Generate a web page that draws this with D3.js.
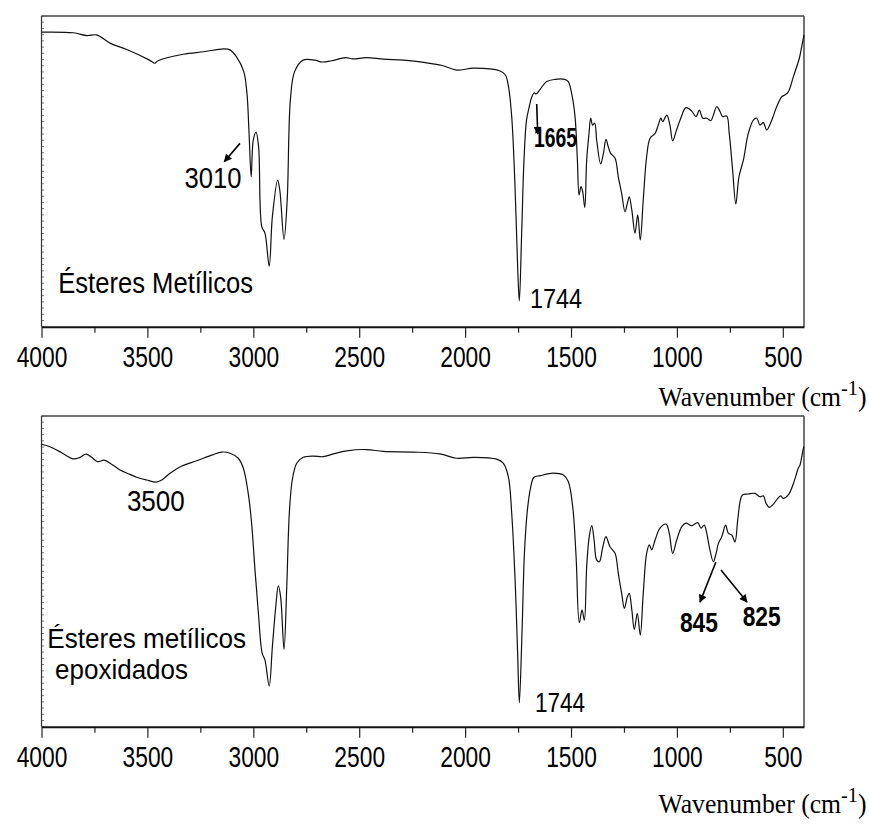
<!DOCTYPE html>
<html>
<head>
<meta charset="utf-8">
<script src="https://cdn.jsdelivr.net/npm/d3@7"></script>
<style>
  body { margin: 0; background: #fff; }
  svg { display: block; }
</style>
</head>
<body>
<svg id="chart" width="869" height="831"></svg>
<script>
// FTIR spectra: methyl esters (top) and epoxidized methyl esters (bottom)
const topWavenumber = [4000,3850,3785,3740,3675,3600,3490,3465,3450,3330,3235,3140,3110,3080,3045,3030,3020,3010,3000,2987,2975,2960,2945,2925,2910,2885,2875,2855,2840,2825,2805,2765,2710,2675,2630,2565,2530,2465,2385,2290,2195,2105,2040,1960,1835,1810,1795,1780,1765,1752,1744,1733,1722,1710,1697,1685,1673,1665,1646,1615,1575,1530,1513,1497,1481,1470,1462,1453,1445,1435,1426,1415,1407,1398,1388,1379,1360,1347,1335,1324,1313,1292,1277,1261,1245,1234,1225,1213,1198,1185,1173,1159,1143,1127,1103,1088,1076,1067,1048,1033,1020,1004,985,957,930,910,894,878,859,840,828,812,796,784,765,753,737,722,707,686,663,639,623,608,592,576,552,529,505,490,474,450,422,411,400];
const topTransmittance = [94.8,94.6,93.7,93.9,91.2,89.3,85.8,84.8,85.6,87.7,88.5,89.4,89.1,86.9,82.1,75.1,62.2,48.3,60.1,62.6,57.9,32.2,30.1,19.5,35.4,47.2,44.0,28.1,40.8,73.0,82.1,85.8,85.8,85.2,85.6,86.6,86.2,86.6,86.1,85.8,85.1,84.0,82.6,83.2,82.3,81.0,77.2,67.6,46.2,19.3,8.3,30.1,53.7,66.5,70.8,74.0,75.3,74.9,76.4,78.9,79.6,79.6,78.9,75.1,67.6,53.7,42.4,45.1,43.5,38.4,53.7,62.2,67.1,64.9,65.5,60.1,52.4,55.8,60.3,57.9,55.8,54.2,48.3,42.9,37.0,39.7,41.8,37.6,30.1,36.0,27.9,40.8,54.7,60.6,62.2,64.9,67.1,66.0,68.1,64.9,59.8,62.8,66.5,70.5,69.4,67.6,69.7,67.1,67.1,66.3,68.1,70.8,69.2,67.6,67.8,62.2,50.4,39.5,48.3,53.7,62.2,66.5,67.1,64.9,65.7,63.3,66.5,70.8,74.0,74.6,75.6,80.5,86.4,90.1,93.9];

const bottomWavenumber = [4000,3960,3905,3850,3818,3790,3763,3735,3705,3669,3629,3582,3551,3503,3459,3432,3393,3338,3267,3196,3149,3110,3071,3047,3024,3008,2992,2976,2958,2945,2925,2910,2894,2882,2871,2855,2842,2830,2816,2795,2764,2717,2670,2622,2559,2465,2386,2245,2119,2040,1961,1851,1820,1796,1780,1764,1752,1744,1731,1720,1706,1690,1675,1646,1584,1536,1513,1492,1476,1461,1448,1437,1426,1414,1402,1391,1379,1366,1350,1335,1316,1292,1277,1261,1248,1234,1225,1213,1201,1187,1173,1159,1143,1130,1119,1103,1080,1051,1036,1020,1001,977,957,930,902,886,871,859,847,828,815,804,788,770,757,741,726,713,702,691,663,631,608,592,579,564,548,529,510,498,474,450,427,419,403,400];
const bottomTransmittance = [90.9,90.1,88.2,86.2,86.7,87.7,86.7,85.3,85.8,84.5,82.6,81.2,80.3,79.4,78.7,79.4,81.6,83.9,85.6,87.4,88.4,88.0,86.4,83.2,75.1,65.5,50.4,36.5,23.6,21.5,13.1,25.7,38.6,45.3,41.8,24.9,45.1,68.7,79.4,84.8,86.7,87.1,86.9,87.8,88.8,89.2,88.6,88.4,87.8,86.4,86.7,86.1,84.8,80.5,68.7,47.2,23.6,7.7,31.1,55.8,69.7,77.2,80.3,80.8,81.6,81.0,78.9,70.8,54.7,33.5,37.6,34.3,51.5,61.2,64.7,60.1,53.7,53.1,57.9,61.2,57.9,55.8,49.4,42.9,38.1,41.8,42.9,37.6,31.3,36.5,29.5,42.9,55.8,58.5,56.9,60.1,63.9,65.2,62.2,55.8,60.1,64.4,65.5,64.7,65.7,63.9,64.9,62.2,57.9,53.1,55.8,59.0,61.2,64.9,62.2,61.7,59.5,66.5,72.4,74.6,74.9,75.1,74.0,74.3,71.9,70.6,71.4,73.0,74.3,73.5,74.6,78.3,83.2,84.2,89.6,90.1];

const majorTicks = [4000, 3500, 3000, 2500, 2000, 1500, 1000, 500];
const minorTicks = [3750, 3250, 2750, 2250, 1750, 1250, 750];
const gridMinorY = d3.range(0, 101, 2);

const axisTitle = "Wavenumber (cm";
const axisTitleSup = "-1";

// Peak annotations, anchored in (wavenumber, transmittance) coordinates
const topNotes = [
  { text: "3010", wn: 3190, t: 44.5, width: 57, size: 30, weight: "normal" },
  { text: "1665", wn: 1573, t: 57.9, width: 43, size: 27, weight: "bold" },
  { text: "1744", wn: 1571, t: 5.9, width: 52, size: 28, weight: "normal" }
];
const topArrows = [
  { from: [3063, 59.0], to: [3137, 53.1] },
  { from: [1662, 71.7], to: [1657, 62.0] }
];
const bottomNotes = [
  { text: "3500", wn: 3460, t: 69.4, width: 58, size: 29, weight: "normal" },
  { text: "1744", wn: 1552, t: 4.8, width: 50, size: 28, weight: "normal" },
  { text: "845", wn: 896, t: 30.5, width: 38, size: 28, weight: "bold" },
  { text: "825", wn: 600, t: 32.4, width: 38, size: 28, weight: "bold" }
];
const bottomArrows = [
  { from: [816, 53.0], to: [891, 40.1] },
  { from: [792, 50.4], to: [669, 40.1] }
];

const svg = d3.select("#chart");
const SANS = "'Liberation Sans', Arial, Helvetica, sans-serif";
const SERIF = "'Liberation Serif', 'Times New Roman', serif";

// arrowhead marker
svg.append("defs").append("marker")
  .attr("id", "head")
  .attr("viewBox", "0 0 10 10")
  .attr("refX", 9).attr("refY", 5)
  .attr("markerWidth", 12).attr("markerHeight", 8)
  .attr("markerUnits", "userSpaceOnUse")
  .attr("orient", "auto")
  .append("path").attr("d", "M0,0 L10,5 L0,10 Z").attr("fill", "#000");

const left = 41.5, right = 804;
const x = d3.scaleLinear().domain([4000, 400]).range([left, right]);

// horizontally condensed text, sized to a given width
function label(g, str, px, py, o) {
  const t = g.append("text")
    .attr("font-family", o.family || SANS)
    .attr("font-size", o.size)
    .attr("font-weight", o.weight || "normal")
    .attr("fill", "#000")
    .text(str);
  const w = t.node().getComputedTextLength();
  const sx = o.width ? o.width / w : (o.sx || 0.85);
  const tw = w * sx;
  const shift = o.anchor === "middle" ? -tw / 2 : o.anchor === "end" ? -tw : 0;
  t.attr("transform", `translate(${px + shift},${py}) scale(${sx},1)`);
  return t;
}

function panel(top, bottom, wn, tr, notes, arrows, titleBaseline, names) {
  const y = d3.scaleLinear().domain([0, 100]).range([bottom, top]);
  const g = svg.append("g");

  // small inward ticks along the left edge
  g.append("g").selectAll("line").data(gridMinorY).join("line")
    .attr("x1", left).attr("x2", left + 2.5)
    .attr("y1", d => y(d)).attr("y2", d => y(d))
    .attr("stroke", "#555").attr("stroke-width", 0.8);

  // frame
  g.append("line").attr("x1", left).attr("x2", right).attr("y1", top).attr("y2", top)
    .attr("stroke", "#444").attr("stroke-width", 1.5);
  g.append("line").attr("x1", right).attr("x2", right).attr("y1", top).attr("y2", bottom)
    .attr("stroke", "#444").attr("stroke-width", 1.5);
  g.append("line").attr("x1", left).attr("x2", left).attr("y1", top).attr("y2", bottom)
    .attr("stroke", "#333").attr("stroke-width", 1.2);

  // minor ticks
  g.append("g").attr("transform", `translate(0,${bottom})`)
    .call(d3.axisBottom(x).tickValues(minorTicks).tickSize(6).tickSizeOuter(0).tickFormat(""))
    .call(a => a.select(".domain").remove())
    .call(a => a.selectAll("line").attr("stroke", "#222").attr("stroke-width", 1.2));

  // major ticks with labels
  const ax = g.append("g").attr("transform", `translate(0,${bottom})`)
    .call(d3.axisBottom(x).tickValues(majorTicks).tickSize(11).tickSizeOuter(0).tickPadding(8).tickFormat(d3.format("d")));
  ax.select(".domain").attr("stroke", "#111").attr("stroke-width", 2);
  ax.selectAll("line").attr("stroke", "#222").attr("stroke-width", 1.2);
  ax.selectAll("text")
    .attr("font-family", SANS).attr("font-size", 30).attr("fill", "#000")
    .attr("transform", "scale(0.76,1)");

  // spectrum
  const pts = wn.map((w, i) => [w, tr[i]]);
  g.append("path").datum(pts)
    .attr("fill", "none").attr("stroke", "#111").attr("stroke-width", 1.2)
    .attr("stroke-linejoin", "round")
    .attr("d", d3.line().curve(d3.curveCatmullRom.alpha(0.5)).x(d => x(d[0])).y(d => y(d[1])));

  // sample names
  names.forEach(n => label(g, n.text, x(n.wn), y(n.t), { size: n.size, width: n.width }));

  // peak labels and arrows
  notes.forEach(n => label(g, n.text, x(n.wn), y(n.t), { size: n.size, weight: n.weight, width: n.width, anchor: "middle" }));
  arrows.forEach(a => g.append("line")
    .attr("x1", x(a.from[0])).attr("y1", y(a.from[1]))
    .attr("x2", x(a.to[0])).attr("y2", y(a.to[1]))
    .attr("stroke", "#000").attr("stroke-width", 1.6)
    .attr("marker-end", "url(#head)"));

  // axis title with superscript
  const t = g.append("text")
    .attr("font-family", SERIF).attr("font-size", 28).attr("fill", "#000");
  t.append("tspan").text(axisTitle);
  t.append("tspan").attr("font-size", 22).attr("dy", -11).text(axisTitleSup);
  t.append("tspan").attr("dy", 11).text(")");
  const w = t.node().getComputedTextLength();
  const sx = 208 / w;
  t.attr("transform", `translate(${866.5 - 208},${titleBaseline}) scale(${sx},1)`);
}

panel(16, 326.7, topWavenumber, topTransmittance, topNotes, topArrows, 406,
  [{ text: "Ésteres Metílicos", wn: 3921, t: 10.9, size: 30, width: 195 }]);
panel(416, 726.7, bottomWavenumber, bottomTransmittance, bottomNotes, bottomArrows, 813,
  [{ text: "Ésteres metílicos", wn: 3973, t: 25.4, size: 27, width: 199 },
   { text: "epoxidados", wn: 3936, t: 15.2, size: 27, width: 133 }]);
</script>
</body>
</html>
